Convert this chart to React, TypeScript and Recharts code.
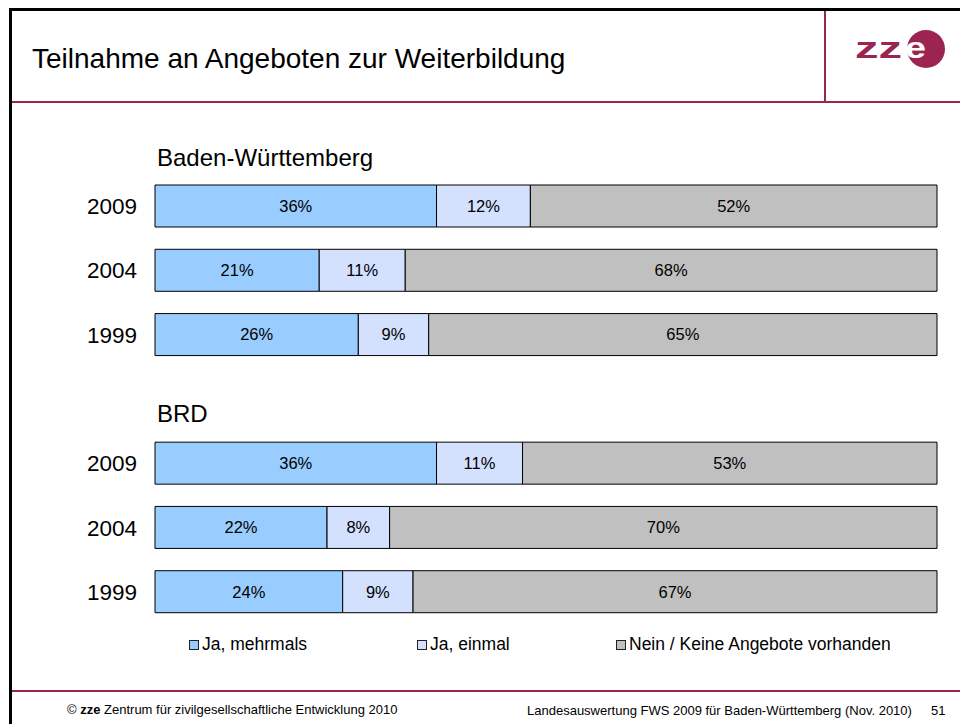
import React from 'react';
import { BarChart, Bar, XAxis, YAxis, LabelList, Legend } from 'recharts';

// ============================================================
// Teilnahme an Angeboten zur Weiterbildung
// Stacked 100% bars, BW vs. BRD, survey waves 1999 / 2004 / 2009
// ============================================================

const rowKeys = ['BW 2009', 'BW 2004', 'BW 1999', 'gap', 'BRD 2009', 'BRD 2004', 'BRD 1999'];
const yearLabels = ['2009', '2004', '1999', '', '2009', '2004', '1999'];
const jaMehrmals = [36, 21, 26, null, 36, 22, 24];
const jaEinmal = [12, 11, 9, null, 11, 8, 9];
const nein = [52, 68, 65, null, 53, 70, 67];

const groupTitles = ['Baden-Württemberg', 'BRD'];
const seriesNames = ['Ja, mehrmals', 'Ja, einmal', 'Nein / Keine Angebote vorhanden'];
const seriesColors = ['#99CCFF', '#D3E1FF', '#C0C0C0'];

const FONT = '"Liberation Sans", Arial, sans-serif';
const MAROON = '#9C2450';
const PLOT_LEFT = 155;

const data = rowKeys.map((key, i) => ({
  key,
  year: yearLabels[i],
  mehrmals: jaMehrmals[i],
  einmal: jaEinmal[i],
  nein: nein[i],
}));

function YearTick({ y, payload, index }: any) {
  const row = data.find((d) => d.key === payload.value);
  return (
    <g fontFamily={FONT}>
      <text x={137} y={y} dy={8} textAnchor="end" fontSize={22.5} fill="#000">
        {row?.year}
      </text>
      {index === 0 && (
        <text x={PLOT_LEFT + 2} y={y - 48} dy={8} fontSize={24} fill="#000">
          {groupTitles[0]}
        </text>
      )}
      {payload.value === 'gap' && (
        <text x={PLOT_LEFT + 2} y={y + 15} dy={8} fontSize={24} fill="#000">
          {groupTitles[1]}
        </text>
      )}
    </g>
  );
}

const legendLefts = [189, 417, 616];

function LegendContent() {
  return (
    <div style={{ position: 'relative', height: 24, fontFamily: FONT, fontSize: 17.5 }}>
      {seriesNames.map((name, i) => (
        <div
          key={name}
          style={{ position: 'absolute', left: legendLefts[i], top: 0, display: 'flex', alignItems: 'center' }}
        >
          <span
            style={{
              display: 'inline-block', width: 8, height: 8, background: seriesColors[i],
              border: '1px solid #222', marginRight: 3,
            }}
          />
          <span style={{ color: '#000' }}>{name}</span>
        </div>
      ))}
    </div>
  );
}

const pct = (v: any) => (v == null ? '' : `${v}%`);

export default function App() {
  return (
    <div style={{ position: 'absolute', left: 0, top: 0, width: 960, height: 724, background: '#fff', overflow: 'hidden', fontFamily: FONT }}>
      {/* slide frame */}
      <div style={{ position: 'absolute', left: 9, top: 8, width: 960, height: 3, background: '#000' }} />
      <div style={{ position: 'absolute', left: 9, top: 8, width: 3, height: 724, background: '#000' }} />
      <div style={{ position: 'absolute', left: 12, top: 101, width: 960, height: 2, background: MAROON }} />
      <div style={{ position: 'absolute', left: 824, top: 11, width: 2, height: 90, background: MAROON }} />
      <div style={{ position: 'absolute', left: 12, top: 690, width: 960, height: 2, background: MAROON }} />

      <div style={{ position: 'absolute', left: 32, top: 43, fontSize: 28, color: '#000', whiteSpace: 'nowrap' }}>
        Teilnahme an Angeboten zur Weiterbildung
      </div>

      {/* logo */}
      <svg style={{ position: 'absolute', left: 840, top: 20 }} width={120} height={70}>
        <circle cx={86} cy={29} r={19} fill={MAROON} />
        <text x={15} y={38} fontFamily={FONT} fontWeight="bold" fontSize={30} fill={MAROON} textLength={47} lengthAdjust="spacingAndGlyphs">zz</text>
        <text x={65} y={38} fontFamily={FONT} fontWeight="bold" fontSize={30} fill="#fff" textLength={21} lengthAdjust="spacingAndGlyphs">e</text>
      </svg>

      {/* footer */}
      <div style={{ position: 'absolute', left: 67, top: 702, fontSize: 13, color: '#000', whiteSpace: 'nowrap' }}>
        © <b>zze</b> Zentrum für zivilgesellschaftliche Entwicklung 2010
      </div>
      <div style={{ position: 'absolute', left: 527, top: 703, fontSize: 13, color: '#000', whiteSpace: 'nowrap' }}>
        Landesauswertung FWS 2009 für Baden-Württemberg (Nov. 2010)
      </div>
      <div style={{ position: 'absolute', left: 931, top: 703, fontSize: 13, color: '#000' }}>51</div>

      <div style={{ position: 'absolute', left: 0, top: 0 }}>
        <BarChart
          width={960}
          height={724}
          data={data}
          layout="vertical"
          margin={{ top: 174, right: 23, bottom: 100, left: 0 }}
          barCategoryGap={0}
        >
          <XAxis type="number" domain={[0, 100]} hide />
          <YAxis
            type="category"
            dataKey="key"
            width={PLOT_LEFT}
            axisLine={false}
            tickLine={false}
            tick={<YearTick />}
            interval={0}
          />
          <Legend
            layout="horizontal"
            verticalAlign="middle"
            content={<LegendContent />}
            wrapperStyle={{ top: 634, left: 0, width: 960 }}
          />
          <Bar dataKey="mehrmals" stackId="a" name={seriesNames[0]} fill={seriesColors[0]} stroke="#000" strokeWidth={1} barSize={42} isAnimationActive={false}>
            <LabelList dataKey="mehrmals" position="center" formatter={pct} fill="#000" fontSize={16.5} fontFamily={FONT} />
          </Bar>
          <Bar dataKey="einmal" stackId="a" name={seriesNames[1]} fill={seriesColors[1]} stroke="#000" strokeWidth={1} barSize={42} isAnimationActive={false}>
            <LabelList dataKey="einmal" position="center" formatter={pct} fill="#000" fontSize={16.5} fontFamily={FONT} />
          </Bar>
          <Bar dataKey="nein" stackId="a" name={seriesNames[2]} fill={seriesColors[2]} stroke="#000" strokeWidth={1} barSize={42} isAnimationActive={false}>
            <LabelList dataKey="nein" position="center" formatter={pct} fill="#000" fontSize={16.5} fontFamily={FONT} />
          </Bar>
        </BarChart>
      </div>
    </div>
  );
}
